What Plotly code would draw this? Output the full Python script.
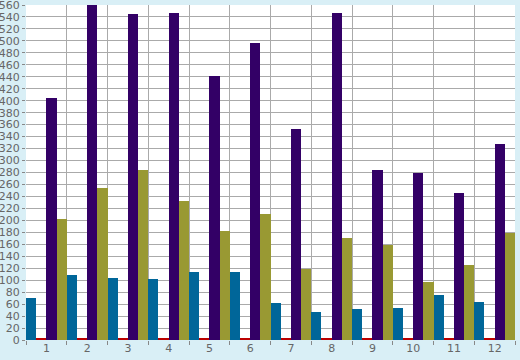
import plotly.graph_objects as go

categories = [str(i) for i in range(1, 13)]
blue_vals = [70, 109, 104, 102, 114, 114, 62, 47, 52, 54, 75, 64]
red_vals = [2, 2, 2, 2, 2, 2, 2, 2, 2, 2, 2, 2]
purple_vals = [405, 560, 545, 547, 441, 497, 353, 547, 284, 279, 246, 328]
olive_vals = [202, 254, 284, 232, 182, 210, 119, 171, 159, 97, 125, 179]
y_ticks = list(range(0, 561, 20))

series = [
    ("Series 1", blue_vals, "#006699"),
    ("Series 2", red_vals, "#bb0000"),
    ("Series 3", purple_vals, "#330066"),
    ("Series 4", olive_vals, "#999933"),
]

fig = go.Figure()
for name, vals, col in series:
    fig.add_trace(go.Bar(x=categories, y=vals, name=name, marker=dict(color=col, line=dict(width=0))))

axis_font = dict(family="DejaVu Sans", size=11, color="#666666")
fig.update_layout(
    width=520, height=360,
    margin=dict(l=26, r=5, t=5, b=20, autoexpand=False),
    paper_bgcolor="#d9eff6",
    plot_bgcolor="#ffffff",
    barmode="group",
    bargap=0, bargroupgap=0,
    showlegend=False,
    xaxis=dict(type="category", tickson="boundaries", ticks="outside", ticklen=4,
               tickcolor="#888888", showgrid=True, gridcolor="#aaaaaa", gridwidth=1,
               tickfont=axis_font, showline=False, zeroline=False, automargin=False,
               ticklabeloverflow="allow"),
    yaxis=dict(range=[0, 560], tickvals=y_ticks, ticks="outside", ticklen=3,
               tickcolor="#888888", showgrid=True, gridcolor="#aaaaaa", gridwidth=1,
               tickfont=axis_font, zeroline=False, showline=False, automargin=False,
               ticklabeloverflow="allow"),
)
fig.write_html("out.html",
               config={"displayModeBar": False},
               post_script="document.body.style.margin='0';document.body.style.background='#d9eff6';")
